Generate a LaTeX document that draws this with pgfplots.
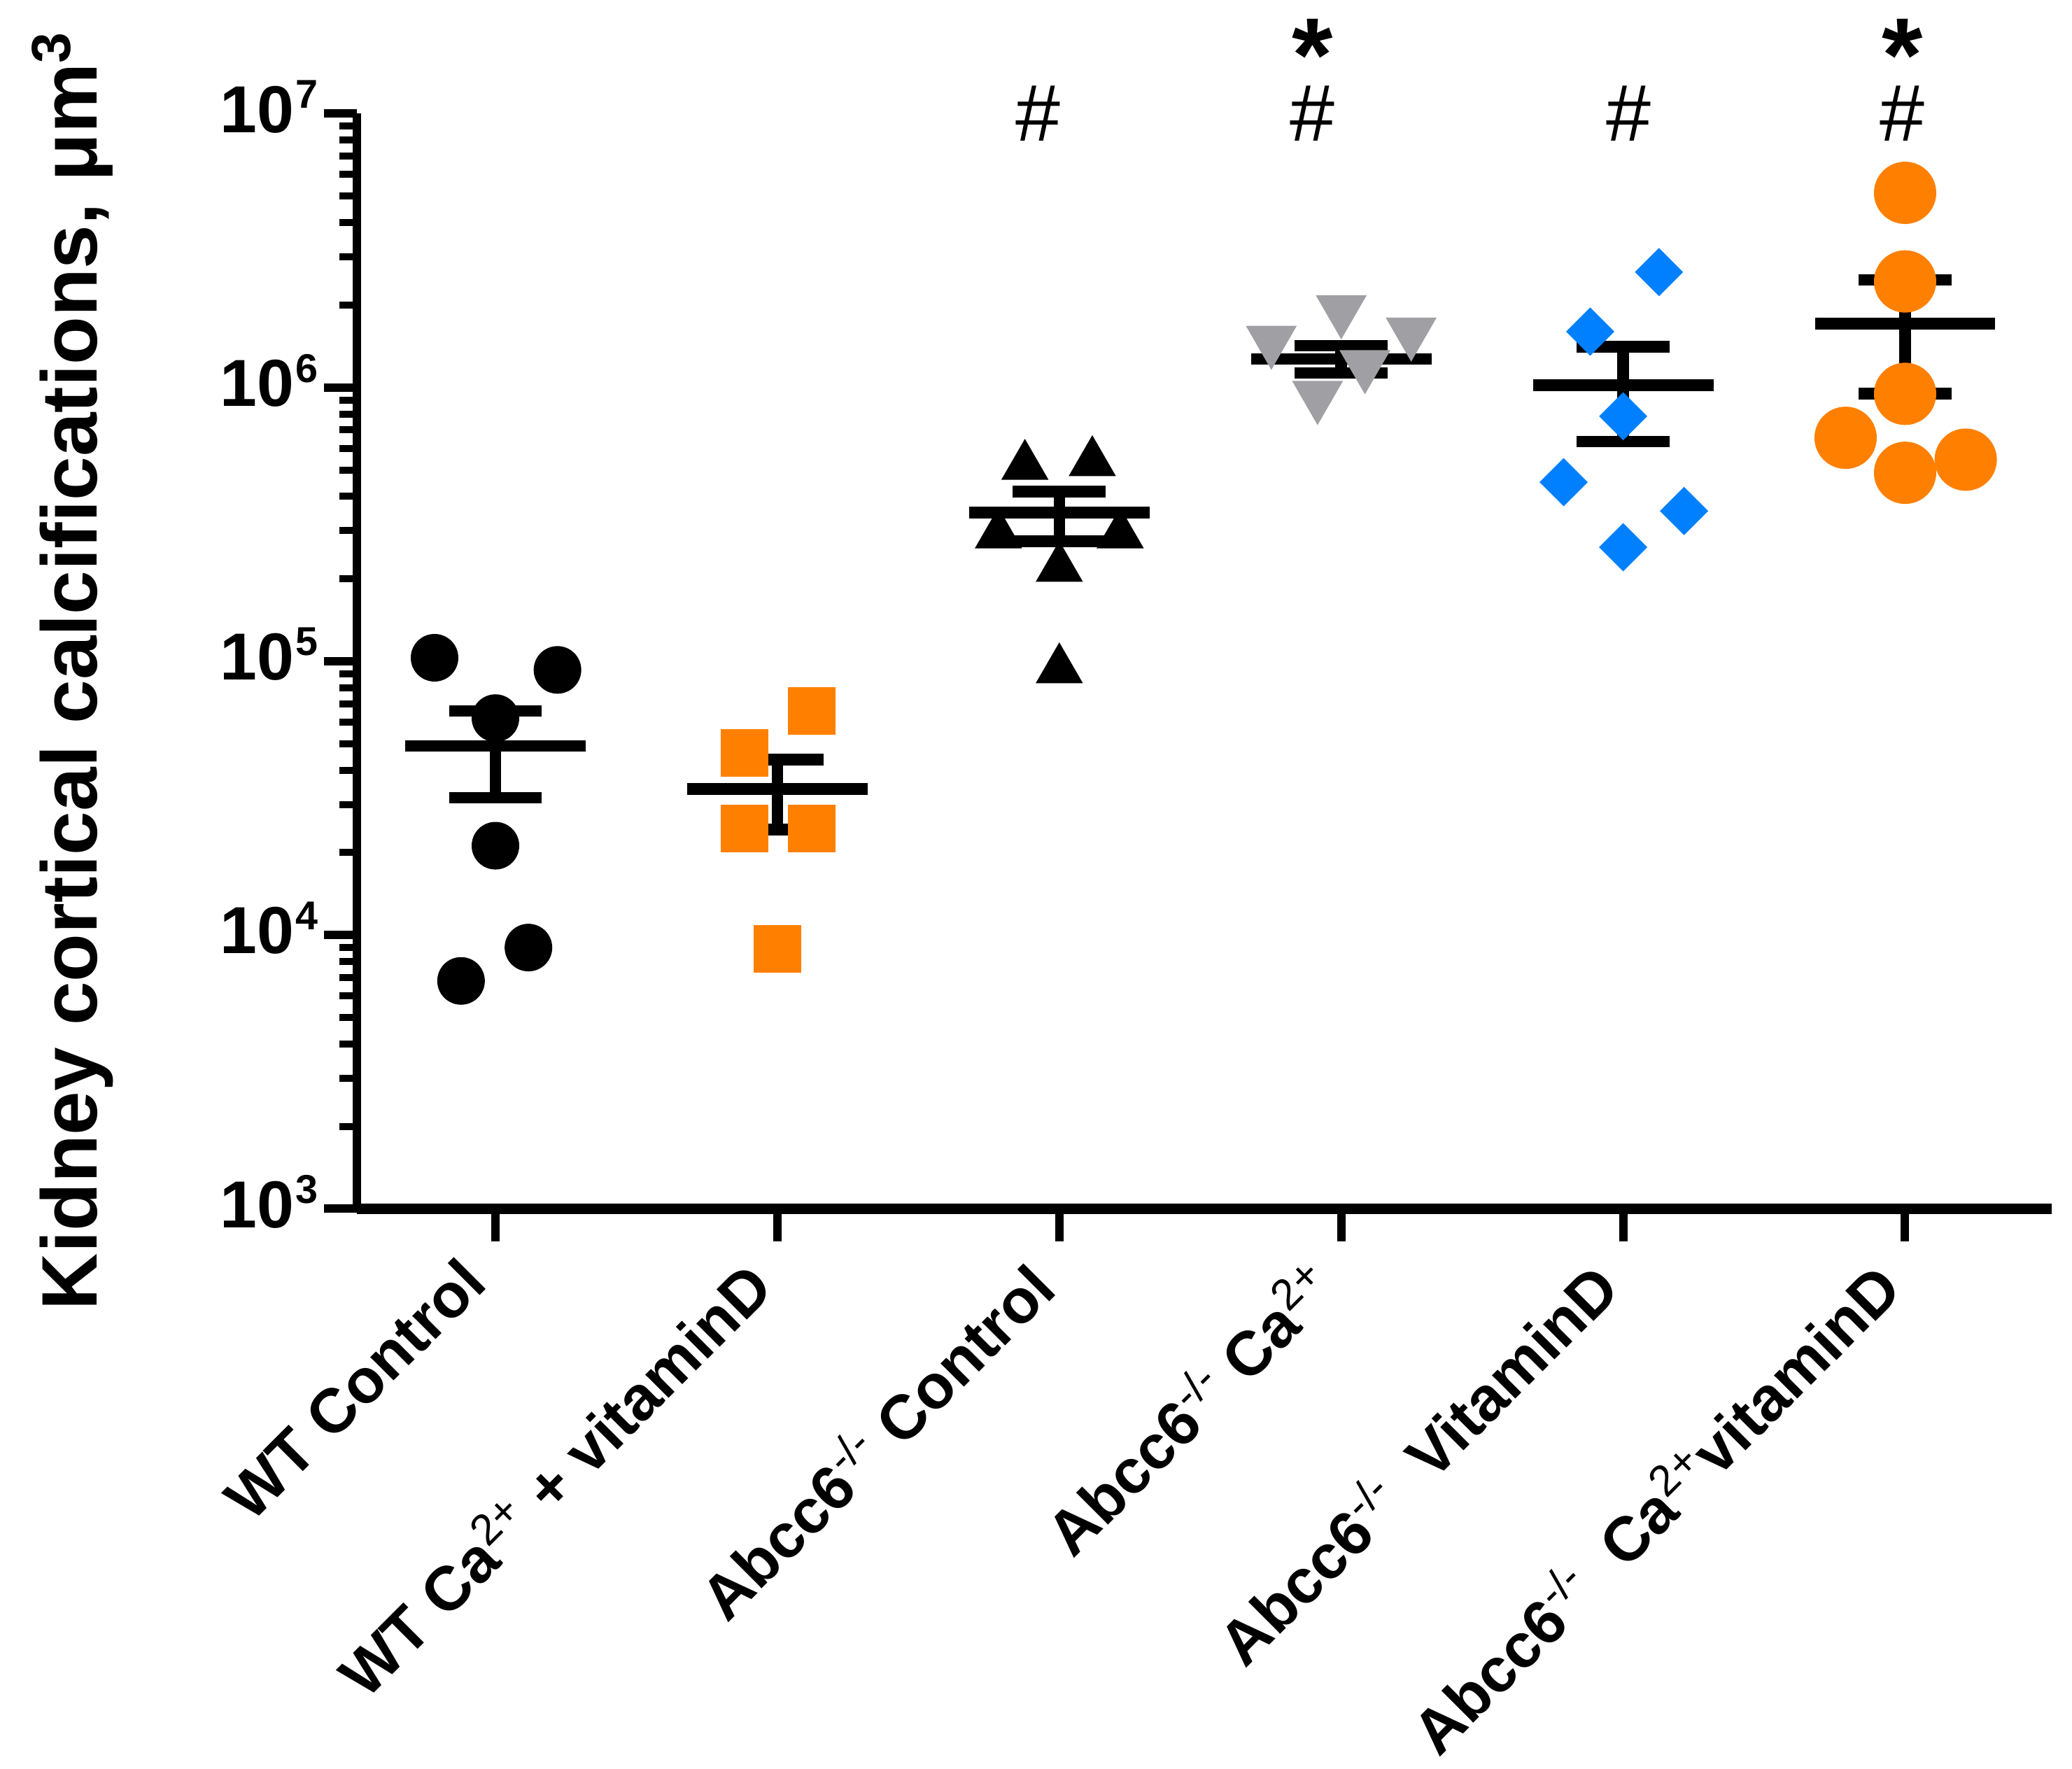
\documentclass[border=0pt]{standalone}
\usepackage{fontspec}
\setmainfont{Liberation Sans}
\usepackage{pgfplots}
\pgfplotsset{compat=1.18}
\definecolor{gporange}{RGB}{255,128,0}
\definecolor{gpblue}{RGB}{0,128,255}
\definecolor{gpgray}{RGB}{160,160,164}
\newcommand{\msem}[8]{% capL capR meanL meanR x mean lo hi
  \addplot[black, line width=3.3pt, forget plot] coordinates {(#3,#6) (#4,#6)};
  \addplot[black, line width=3.3pt, forget plot] coordinates {(#5,#7) (#5,#8)};
  \addplot[black, line width=3.3pt, forget plot] coordinates {(#1,#8) (#2,#8)};
  \addplot[black, line width=3.3pt, forget plot] coordinates {(#1,#7) (#2,#7)};
}
\newcommand{\ex}[1]{\kern0.04em\raisebox{0.05em}{\fontsize{11.5}{12}\selectfont #1}}
\begin{document}
\begin{tikzpicture}
\begin{axis}[
  at={(0pt,0pt)}, anchor=south west,
  scale only axis, width=484.4pt, height=313pt,
  xmin=-0.4915, xmax=5.52,
  ymode=log, ymin=1e3, ymax=1e7,
  axis lines=left,
  axis line style={-, line width=2.4pt},
  x axis line style={line width=3pt},
  clip=false,
  xtick={0,1,2,3,4,5},
  xticklabels={
    WT Control,
    WT Ca\textsuperscript{\mdseries 2+} + vitaminD,
    Abcc6\textsuperscript{\mdseries -/-} Control,
    Abcc6\textsuperscript{\mdseries -/-} Ca\textsuperscript{\mdseries 2+},
    Abcc6\textsuperscript{\mdseries -/-}\ \ VitaminD,
    Abcc6\textsuperscript{\mdseries -/-}\ \ Ca\textsuperscript{\mdseries 2+}vitaminD},
  ytick={1e3,1e4,1e5,1e6,1e7},
  yticklabels={10\textsuperscript{\ex{3}},10\textsuperscript{\ex{4}},10\textsuperscript{\ex{5}},10\textsuperscript{\ex{6}},10\textsuperscript{\ex{7}}},
  minor ytick={2e3,3e3,4e3,5e3,6e3,7e3,8e3,9e3,2e4,3e4,4e4,5e4,6e4,7e4,8e4,9e4,2e5,3e5,4e5,5e5,6e5,7e5,8e5,9e5,2e6,3e6,4e6,5e6,6e6,7e6,8e6,9e6},
  tick align=outside,
  major tick length=9.4pt,
  minor tick length=5pt,
  tick style={black},
  major tick style={line width=2.4pt},
  minor tick style={line width=2pt},
  xticklabel style={xshift=-11pt, yshift=-0.5pt, rotate=45, anchor=north east, inner sep=2pt, font=\fontsize{17.8}{19}\selectfont\bfseries},
  yticklabel style={yshift=2pt, inner sep=1pt, font=\fontsize{19}{20}\selectfont\bfseries},
]
% data points
\addplot[only marks, mark=*, mark size=6.6pt, color=black] coordinates {
  (-0.216,1.03e5) (0.22,9.3e4) (0,6.2e4) (0,2.12e4) (0.117,9.0e3) (-0.122,6.8e3)};
\addplot[only marks, mark=square*, mark size=6.6pt, color=gporange] coordinates {
  (1.122,6.59e4) (0.883,4.63e4) (0.883,2.45e4) (1.122,2.45e4) (1,8.9e3)};
\addplot[only marks, mark=triangle*, mark size=7.4pt, color=black, mark options={yshift=-1.85pt}] coordinates {
  (1.878,5.45e5) (2.117,5.62e5) (1.784,3.06e5) (2.216,3.06e5) (2,2.31e5) (2,9.84e4)};
\addplot[only marks, mark=triangle*, mark size=8pt, color=gpgray, mark options={rotate=180, yshift=-2pt}] coordinates {
  (3,1.81e6) (2.752,1.40e6) (3.248,1.50e6) (3.084,1.14e6) (2.916,8.8e5)};
\addplot[only marks, mark=square*, mark size=4.67pt, color=gpblue, mark options={rotate=45}] coordinates {
  (4.127,2.64e6) (3.883,1.60e6) (4,7.85e5) (3.789,4.51e5) (4.216,3.54e5) (4,2.61e5)};
\addplot[only marks, mark=*, mark size=8.7pt, color=gporange] coordinates {
  (5,5.14e6) (5,2.44e6) (5,9.48e5) (4.789,6.55e5) (5.215,5.45e5) (5,4.88e5)};
% mean +- SEM
\msem{-0.165}{0.165}{-0.32}{0.32}{0}{4.9e4}{3.17e4}{6.59e4}
\msem{0.835}{1.165}{0.68}{1.32}{1}{3.42e4}{2.43e4}{4.37e4}
\msem{1.835}{2.165}{1.68}{2.32}{2}{3.49e5}{2.74e5}{4.17e5}
\msem{2.835}{3.165}{2.68}{3.32}{3}{1.27e6}{1.13e6}{1.42e6}
\msem{3.835}{4.165}{3.68}{4.32}{4}{1.02e6}{6.35e5}{1.41e6}
\msem{4.835}{5.165}{4.68}{5.32}{5}{1.71e6}{9.5e5}{2.47e6}
% significance marks
\node[anchor=base, font=\fontsize{23}{24}\selectfont] at (axis cs:1.925,7.95e6) {\#};
\node[anchor=base, font=\fontsize{23}{24}\selectfont] at (axis cs:2.897,7.95e6) {\#};
\node[anchor=base, font=\fontsize{23}{24}\selectfont] at (axis cs:4.019,7.95e6) {\#};
\node[anchor=base, font=\fontsize{23}{24}\selectfont] at (axis cs:4.991,7.95e6) {\#};
\node[anchor=base, font=\fontsize{30}{32}\selectfont\bfseries] at (axis cs:2.897,1.21e7) {*};
\node[anchor=base, font=\fontsize{30}{32}\selectfont\bfseries] at (axis cs:4.991,1.21e7) {*};
\end{axis}
\node[rotate=90, font=\fontsize{22.5}{24}\selectfont\bfseries] at (-81.2pt,153.9pt) {Kidney cortical calcifications, μm\textsuperscript{3}};
\pgfresetboundingbox
\useasboundingbox (-102pt,-160.1pt) rectangle (490.2pt,345.5pt);
\end{tikzpicture}
\end{document}
